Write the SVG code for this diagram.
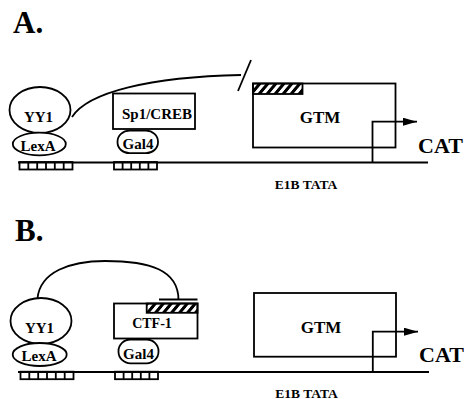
<svg xmlns="http://www.w3.org/2000/svg" width="464" height="399" viewBox="0 0 464 399">
<style>
.s{fill:none;stroke:#000;stroke-width:1.8}
.w{fill:#fff;stroke:#000;stroke-width:1.8}
.t{font-family:"Liberation Serif","Times New Roman",serif;font-weight:bold;fill:#000;text-anchor:middle}
.h{font-family:"Liberation Serif","Times New Roman",serif;font-weight:bold;fill:#000}
</style>
<defs>
<pattern id="hatch" patternUnits="userSpaceOnUse" width="8" height="10" patternTransform="skewX(-40)">
<rect x="0" y="0" width="4" height="10" fill="#000"/>
</pattern>
<marker id="arr" markerWidth="14" markerHeight="8" refX="14" refY="4" orient="auto" markerUnits="userSpaceOnUse">
<path d="M0,0 L14,4 L0,8 Z" fill="#000"/>
</marker>
<g id="site6">
<rect x="0" y="0" width="53" height="7.5" class="s" stroke-width="1.6"/>
<path d="M8.8,0V7.5M17.7,0V7.5M26.5,0V7.5M35.3,0V7.5M44.2,0V7.5" class="s" stroke-width="1.6"/>
</g>
<g id="site5">
<rect x="0" y="0" width="43" height="7.5" class="s" stroke-width="1.6"/>
<path d="M8.6,0V7.5M17.2,0V7.5M25.8,0V7.5M34.4,0V7.5" class="s" stroke-width="1.6"/>
</g>
</defs>
<rect width="464" height="399" fill="#fff"/>

<!-- Panel A -->
<text class="h" x="13" y="33" font-size="31">A.</text>
<g id="connectorsA">
<path class="s" d="M72,117 C88,92 150,77 241,75"/>
<path class="s" d="M238,91 L251,60"/>
<line class="s" x1="18" y1="162.5" x2="428" y2="162.5"/>
<path class="s" d="M372.5,162.5 V121.7 H417" marker-end="url(#arr)"/>
</g>
<g id="sitesA">
<use href="#site6" x="19.5" y="162"/>
<use href="#site5" x="114" y="162"/>
</g>
<g id="A-YY1"><ellipse class="w" cx="40" cy="110" rx="30.5" ry="23"/><text class="t" x="38.5" y="121.5" font-size="15">YY1</text></g>
<g id="A-LexA"><ellipse class="w" cx="39.3" cy="144" rx="26.5" ry="11.3"/><text class="t" x="38" y="150.5" font-size="15">LexA</text></g>
<g id="A-Sp1"><rect class="w" x="113" y="93.5" width="82" height="35.5"/><text class="t" x="157" y="119" font-size="15">Sp1/CREB</text></g>
<g id="A-Gal4"><rect class="w" x="117.5" y="130.7" width="40.5" height="22.5" rx="12" ry="11"/><text class="t" x="138" y="149" font-size="15">Gal4</text></g>
<g id="A-GTM">
<rect class="s" x="253" y="83.5" width="142.5" height="64"/>
<rect x="253" y="83.5" width="49.5" height="10.5" fill="url(#hatch)" stroke="#000" stroke-width="1.8"/>
<text class="t" x="320" y="122.5" font-size="17">GTM</text>
</g>
<text class="h" x="418" y="153" font-size="22">CAT</text>
<text class="t" x="306" y="188.5" font-size="13.5">E1B TATA</text>

<!-- Panel B -->
<text class="h" x="15" y="241" font-size="31">B.</text>
<g id="connectorsB">
<path class="s" d="M37.5,298.5 C40,272 70,261 105,261 C150,261 178.5,270 178.5,300"/>
<line class="s" x1="159" y1="299.5" x2="197.5" y2="299.5"/>
<line class="s" x1="18" y1="372" x2="429" y2="372"/>
<path class="s" d="M372.8,372 V331.7 H418" marker-end="url(#arr)"/>
</g>
<g id="sitesB">
<use href="#site6" x="20.5" y="371.7"/>
<use href="#site5" x="115" y="371.7"/>
</g>
<g id="B-YY1"><ellipse class="w" cx="41" cy="321" rx="30.5" ry="23"/><text class="t" x="39.5" y="332.5" font-size="15">YY1</text></g>
<g id="B-LexA"><ellipse class="w" cx="39.7" cy="354.5" rx="27" ry="11.5"/><text class="t" x="39" y="361" font-size="15">LexA</text></g>
<g id="B-CTF1">
<rect class="w" x="114" y="303.5" width="83.5" height="35"/>
<rect x="146.7" y="303.5" width="50.8" height="9.3" fill="url(#hatch)" stroke="#000" stroke-width="1.8"/>
<text class="t" x="152" y="327.5" font-size="14">CTF-1</text>
</g>
<g id="B-Gal4"><rect class="w" x="118.5" y="339.5" width="40" height="23.8" rx="12" ry="11.5"/><text class="t" x="138.5" y="358.5" font-size="15">Gal4</text></g>
<g id="B-GTM">
<rect class="s" x="254" y="293" width="142" height="63.7"/>
<text class="t" x="321" y="332.5" font-size="17">GTM</text>
</g>
<text class="h" x="419" y="362" font-size="22">CAT</text>
<text class="t" x="306.5" y="397.5" font-size="13.5">E1B TATA</text>
</svg>
